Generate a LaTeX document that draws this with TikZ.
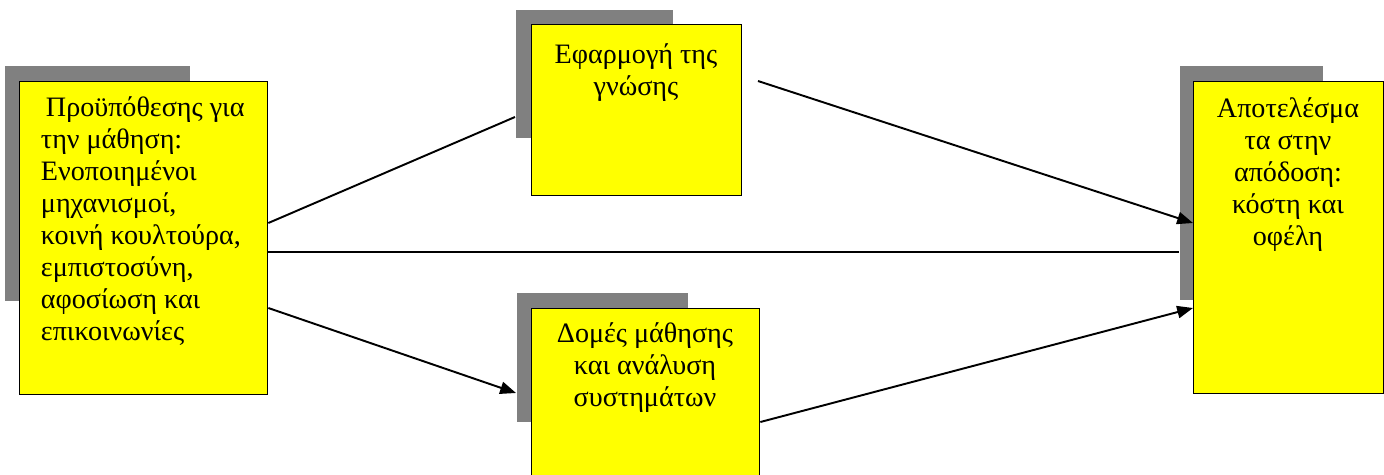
\documentclass[tikz,border=0pt]{standalone}
\usepackage{fontspec}
\setmainfont{Liberation Serif}
\usetikzlibrary{arrows.meta}
\definecolor{shadegray}{RGB}{128,128,128}
\definecolor{boxyellow}{RGB}{255,255,0}

\begin{document}
\begin{tikzpicture}[x=0.02cm, y=-0.02cm, line width=1.1pt, >={Triangle[length=9pt, width=7pt]}]
    \tikzstyle{shade} = [rectangle, fill=shadegray, anchor=north west, inner sep=0pt]
    \tikzstyle{stage} = [rectangle, draw, fill=boxyellow, line width=0.8pt, anchor=north west, inner sep=0pt]
    \tikzstyle{caption} = [inner sep=0pt, font=\fontsize{16}{18.2}\selectfont]

    \useasboundingbox (0,0) rectangle (1384,474);

    \node (presh) at (4, 65) [shade, minimum width=3.7cm, minimum height=4.7cm] {};
    \node (appsh) at (515, 9) [shade, minimum width=3.14cm, minimum height=2.56cm] {};
    \node (learnsh) at (516, 292) [shade, minimum width=3.42cm, minimum height=2.58cm] {};
    \node (ressh) at (1179, 65) [shade, minimum width=2.86cm, minimum height=4.68cm] {};

    \node (pre) at (19, 81) [stage, minimum width=4.96cm, minimum height=6.26cm] {};
    \node (app) at (531, 24) [stage, minimum width=4.2cm, minimum height=3.42cm] {};
    \node (learn) at (531, 308) [stage, minimum width=4.56cm, minimum height=3.7cm] {};
    \node (res) at (1193, 81) [stage, minimum width=3.8cm, minimum height=6.24cm] {};

    \node (pretext) at (40, 96) [caption, anchor=north west, align=left]
        {\hspace{0.1cm}Προϋπόθεσης για \\ την μάθηση: \\ Ενοποιημένοι \\ μηχανισμοί, \\ κοινή κουλτούρα, \\ εμπιστοσύνη, \\ αφοσίωση και \\ επικοινωνίες};
    \node (apptext) at (636, 43) [caption, anchor=north, align=center] {Εφαρμογή της \\ γνώσης};
    \node (learntext) at (645, 322) [caption, anchor=north, align=center] {Δομές μάθησης \\ και ανάλυση \\ συστημάτων};
    \node (restext) at (1288, 97) [caption, anchor=north, align=center] {Αποτελέσμα \\ τα στην \\ απόδοση: \\ κόστη και \\ οφέλη};

    \coordinate (appout) at (758, 81);

    \draw [-] (pre.east |- 0,223) -- (appsh.west |- 0,117);
    \draw [-] (pre.east |- 0,252) -- (ressh.west |- 0,252);
    \draw [->] (pre.east |- 0,308) -- (learnsh.west |- 0,393);
    \draw [->] (appout) -- (res.west |- 0,223);
    \draw [->] (learn.east |- 0,422) -- (res.west |- 0,308);
\end{tikzpicture}
\end{document}
